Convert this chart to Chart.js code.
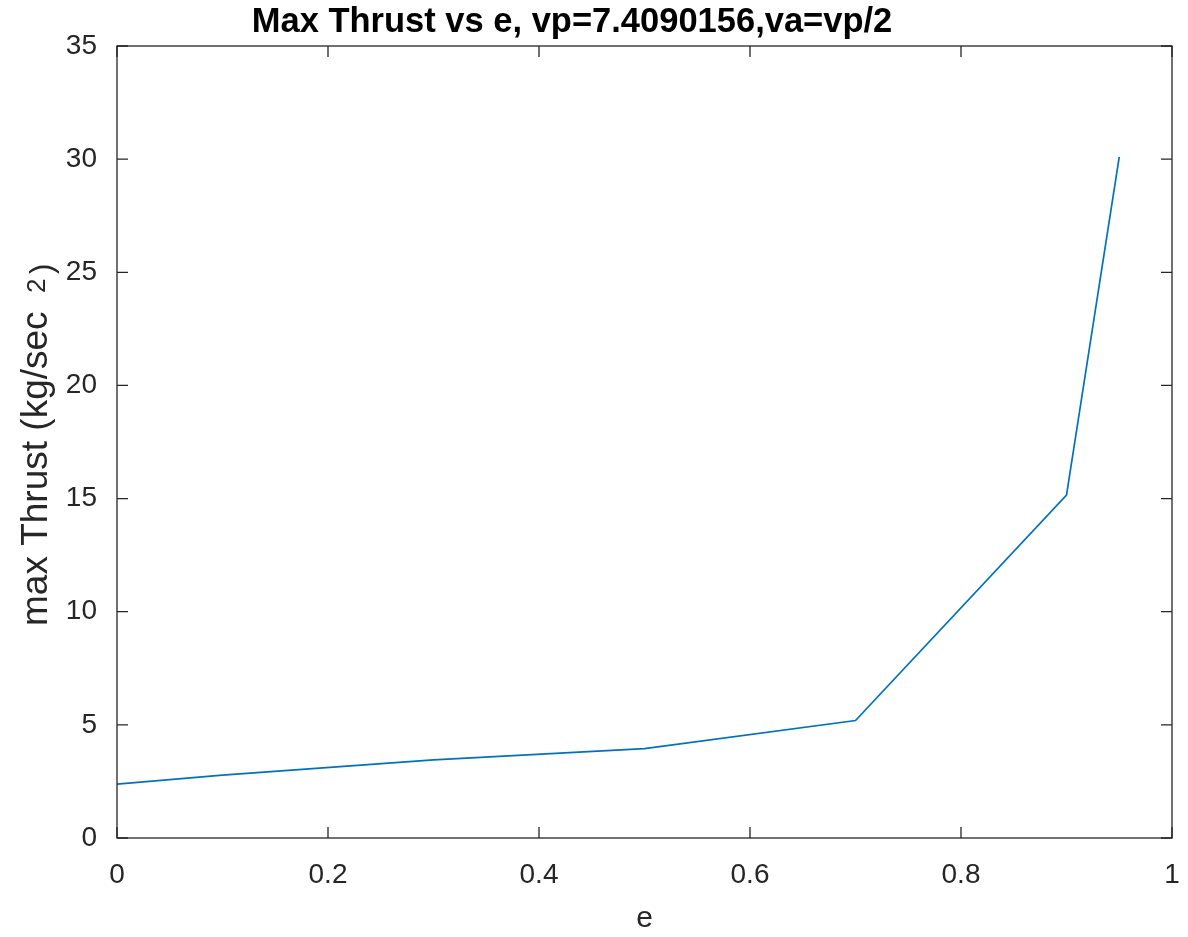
<!DOCTYPE html>
<html>
<head>
<meta charset="utf-8">
<title>Max Thrust vs e</title>
<script src="https://cdn.jsdelivr.net/npm/chart.js@4.4.1/dist/chart.umd.min.js"></script>
<style>
  html, body { margin: 0; padding: 0; background: #fff; }
  #wrap { width: 1188px; height: 937px; }
</style>
</head>
<body>
<div id="wrap"><canvas id="thrust-chart" width="1188" height="937"></canvas></div>
<script>
// e and the max thrust computed for each one
const eValues = [0, 0.1, 0.3, 0.5, 0.7, 0.9, 0.95];
const maxThrust = [2.38, 2.78, 3.45, 3.95, 5.19, 15.15, 30.1];
const xTicks = [0, 0.2, 0.4, 0.6, 0.8, 1];
const yTicks = [0, 5, 10, 15, 20, 25, 30, 35];

const axisColor = "#262626";
const lineColor = "rgb(0, 114, 189)";
const fontFamily = "'Liberation Sans', Arial, sans-serif";

// box around the axes with inward ticks on all four sides, plus the texts
const matlabAxes = {
  id: "matlabAxes",
  afterDraw(chart) {
    const { ctx, chartArea: a, scales } = chart;
    const tl = 11;
    ctx.save();
    ctx.strokeStyle = axisColor;
    ctx.lineWidth = 1.3;
    ctx.strokeRect(a.left, a.top, a.right - a.left, a.bottom - a.top);
    ctx.beginPath();
    xTicks.forEach((v) => {
      const px = scales.x.getPixelForValue(v);
      ctx.moveTo(px, a.bottom);
      ctx.lineTo(px, a.bottom - tl);
      ctx.moveTo(px, a.top);
      ctx.lineTo(px, a.top + tl);
    });
    yTicks.forEach((v) => {
      const py = scales.y.getPixelForValue(v);
      ctx.moveTo(a.left, py);
      ctx.lineTo(a.left + tl, py);
      ctx.moveTo(a.right, py);
      ctx.lineTo(a.right - tl, py);
    });
    ctx.stroke();

    // title
    ctx.fillStyle = "#000";
    ctx.font = "bold 34.5px " + fontFamily;
    ctx.textAlign = "center";
    ctx.textBaseline = "alphabetic";
    ctx.fillText("Max Thrust vs e, vp=7.4090156,va=vp/2", 572, 32);

    // x label
    ctx.fillStyle = axisColor;
    ctx.font = "30px " + fontFamily;
    ctx.fillText("e", (a.left + a.right) / 2, 927);

    // y label, rotated, with the squared unit
    ctx.translate(47, 626);
    ctx.rotate(-Math.PI / 2);
    ctx.textAlign = "left";
    ctx.font = "37px " + fontFamily;
    ctx.fillText("max Thrust (kg/sec", 0, 0);
    ctx.font = "26px " + fontFamily;
    ctx.fillText("2", 333, -2);
    ctx.font = "31px " + fontFamily;
    ctx.fillText(")", 352, 5);
    ctx.restore();
  },
};

const ctx = document.getElementById("thrust-chart").getContext("2d");
const thrustChart = new Chart(ctx, {
  type: "line",
  data: {
    datasets: [
      {
        label: "max thrust",
        data: eValues.map((e, i) => ({ x: e, y: maxThrust[i] })),
        borderColor: lineColor,
        borderWidth: 1.7,
        pointRadius: 0,
        tension: 0,
        fill: false,
      },
    ],
  },
  options: {
    responsive: false,
    animation: false,
    devicePixelRatio: 1,
    layout: { padding: { top: 46, right: 16, left: 0, bottom: 0 } },
    plugins: {
      legend: { display: false },
      tooltip: { enabled: false },
      title: { display: false },
    },
    scales: {
      x: {
        type: "linear",
        min: 0,
        max: 1,
        afterBuildTicks: (s) => {
          s.ticks = xTicks.map((v) => ({ value: v }));
        },
        afterFit: (s) => {
          s.height = 99;
          s.paddingLeft = 0;
          s.paddingRight = 0;
        },
        grid: { display: false, drawTicks: false },
        border: { display: false },
        ticks: {
          color: axisColor,
          padding: 20,
          maxRotation: 0,
          font: { family: fontFamily, size: 28 },
          callback: (v) => String(v),
        },
      },
      y: {
        type: "linear",
        min: 0,
        max: 35,
        afterBuildTicks: (s) => {
          s.ticks = yTicks.map((v) => ({ value: v }));
        },
        afterFit: (s) => {
          s.width = 117;
          s.paddingTop = 0;
          s.paddingBottom = 0;
        },
        grid: { display: false, drawTicks: false },
        border: { display: false },
        ticks: {
          color: axisColor,
          padding: 20,
          font: { family: fontFamily, size: 28 },
          callback: (v) => String(v),
        },
      },
    },
  },
  plugins: [matlabAxes],
});
</script>
</body>
</html>
